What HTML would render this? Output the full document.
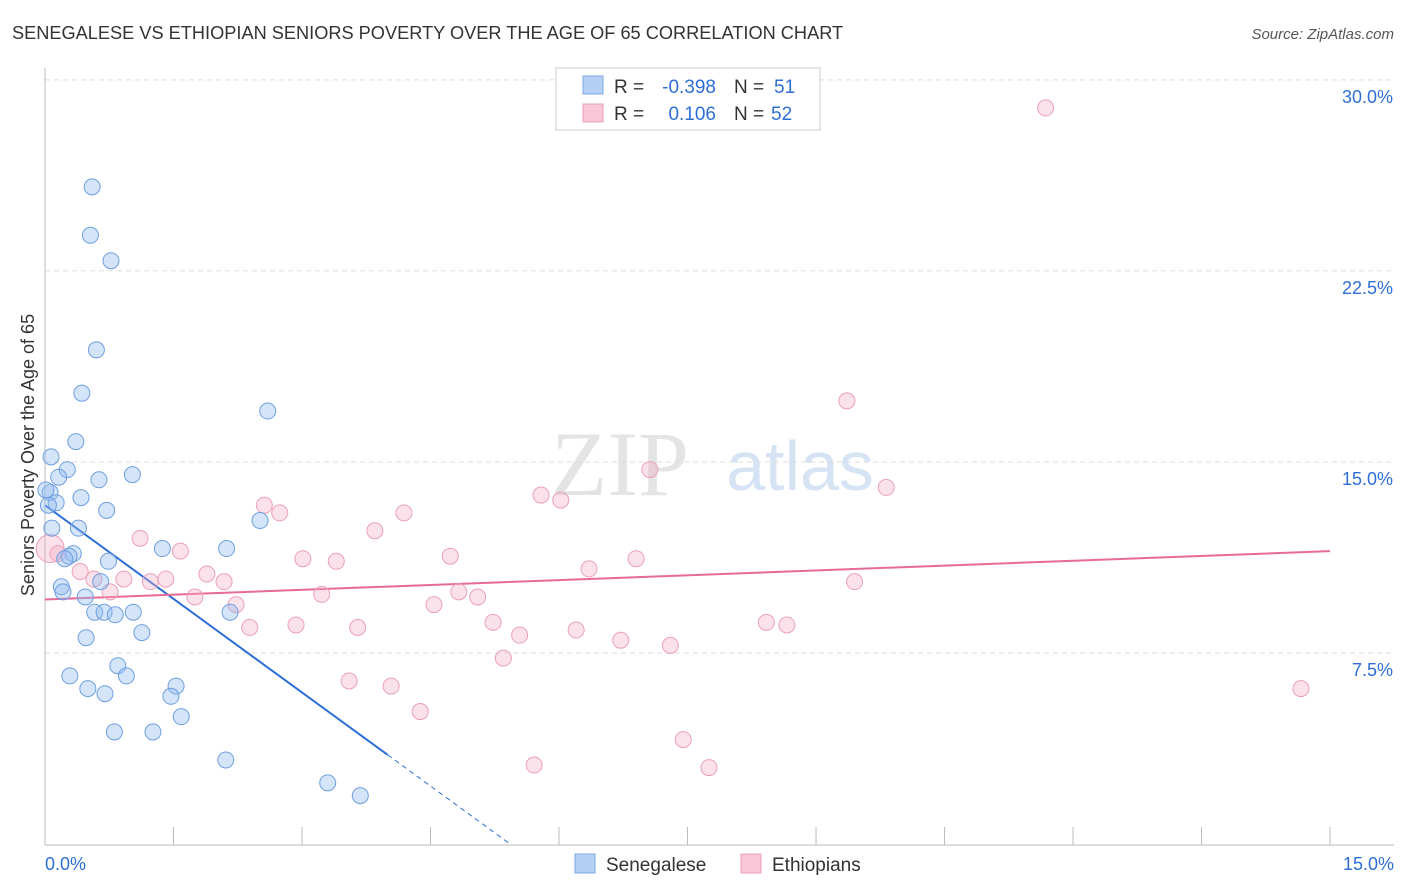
<!DOCTYPE html>
<html><head><meta charset="utf-8"><style>
body{margin:0;background:#fff;font-family:"Liberation Sans",sans-serif;}
svg{display:block}
</style></head><body>
<svg id="chart" width="1406" height="892">
<text x="12" y="39" font-size="18.2" fill="#333">SENEGALESE VS ETHIOPIAN SENIORS POVERTY OVER THE AGE OF 65 CORRELATION CHART</text>
<text x="1394" y="39" font-size="15" fill="#555" font-style="italic" text-anchor="end">Source: ZipAtlas.com</text>
<text x="620" y="495" font-size="92" fill="#e4e4e4" font-family="Liberation Serif" text-anchor="middle">ZIP</text>
<text x="800" y="490" font-size="70" fill="#d6e3f5" text-anchor="middle">atlas</text>
<g id="grid"></g><g id="axes"></g><g id="trend"></g><g id="pts"></g>
<text transform="translate(34,455) rotate(-90)" font-size="18" fill="#333" text-anchor="middle">Seniors Poverty Over the Age of 65</text>
<g>
<rect x="556" y="68" width="264" height="62" fill="#fff" stroke="#ccc"/>
<rect x="583" y="76" width="20" height="18" fill="#b5d0f3" stroke="#7aa7e6"/>
<text x="614" y="93" font-size="19" fill="#333">R =</text>
<text x="716" y="93" font-size="19" fill="#2e6fd6" text-anchor="end">-0.398</text>
<text x="734" y="93" font-size="19" fill="#333">N =</text>
<text x="774" y="93" font-size="19" fill="#2e6fd6">51</text>
<rect x="583" y="104" width="20" height="18" fill="#f8c6d6" stroke="#eaa0b8"/>
<text x="614" y="120" font-size="19" fill="#333">R =</text>
<text x="716" y="120" font-size="19" fill="#2e6fd6" text-anchor="end">0.106</text>
<text x="734" y="120" font-size="19" fill="#333">N =</text>
<text x="771" y="120" font-size="19" fill="#2e6fd6">52</text>
</g>
<g>
<rect x="575" y="854" width="20" height="19" fill="#b5d0f3" stroke="#7aa7e6"/>
<text x="606" y="871" font-size="19" fill="#333">Senegalese</text>
<rect x="741" y="854" width="20" height="19" fill="#f8c6d6" stroke="#eaa0b8"/>
<text x="772" y="871" font-size="19" fill="#333">Ethiopians</text>
</g>
</svg>
<script>
const blueX=[0.55,0.53,0.77,0.60,0.43,2.60,0.36,0.07,0.26,0.16,0.63,1.02,0.06,0.13,0.42,0.72,0.08,0.39,2.51,0.33,0.28,0.23,1.37,2.12,0.74,0.19,0.21,0.65,0.47,0.58,0.69,0.82,1.03,2.16,0.48,1.13,0.85,0.95,0.29,0.50,0.70,1.53,1.47,1.59,0.81,1.26,2.11,3.30,3.68,0.04,0.01];
const blueY=[25.8,23.9,22.9,19.4,17.7,17.0,15.8,15.2,14.7,14.4,14.3,14.5,13.8,13.4,13.6,13.1,12.4,12.4,12.7,11.4,11.3,11.2,11.6,11.6,11.1,10.1,9.9,10.3,9.7,9.1,9.1,9.0,9.1,9.1,8.1,8.3,7.0,6.6,6.6,6.1,5.9,6.2,5.8,5.0,4.4,4.4,3.3,2.4,1.9,13.3,13.9];
const pinkX=[11.68,9.36,7.06,9.82,5.79,6.02,2.56,2.74,4.19,3.85,1.11,1.58,4.73,3.01,3.40,6.90,6.35,0.15,0.41,0.57,0.92,1.23,1.41,1.89,2.09,0.76,1.75,3.23,4.83,5.05,2.23,4.54,2.93,3.65,5.23,2.39,5.54,6.20,6.72,7.30,8.42,8.66,9.45,5.35,3.55,4.04,4.38,7.45,7.75,5.71,14.66,0.06];
const pinkY=[28.9,17.4,14.7,14.0,13.7,13.5,13.3,13.0,13.0,12.3,12.0,11.5,11.3,11.2,11.1,11.2,10.8,11.4,10.7,10.4,10.4,10.3,10.4,10.6,10.3,9.9,9.7,9.8,9.9,9.7,9.4,9.4,8.6,8.5,8.7,8.5,8.2,8.4,8.0,7.8,8.7,8.6,10.3,7.3,6.4,6.2,5.2,4.1,3.0,3.1,6.1,11.6];
const yTicks=[7.5,15.0,22.5,30.0];
const xTicks=[0,1.5,3,4.5,6,7.5,9,10.5,12,13.5,15];
const blueTrend=[13.3,-2.45,4.0,5.43];
const pinkTrend=[9.6,11.5];
const NS='http://www.w3.org/2000/svg';
const X=v=>45+v*85.67, Y=v=>844-v*25.47;
function mk(t,a,p){const e=document.createElementNS(NS,t);for(const k in a)e.setAttribute(k,a[k]);p.appendChild(e);return e;}
const grid=document.getElementById('grid'),axes=document.getElementById('axes');
yTicks.forEach(t=>{
 const l=mk('line',{x1:45,x2:1394,y1:Y(t),y2:Y(t),stroke:'#ddd','stroke-dasharray':'5,4'},grid);
 
 
 const tx=mk('text',{x:1393,y:Y(t)+23,'font-size':18,fill:'#2e6fd6','text-anchor':'end'},axes);
 tx.textContent=t.toFixed(1)+'%';
 
 
});
mk('line',{x1:45,x2:45,y1:68,y2:845,stroke:'#bbb'},axes);
mk('line',{x1:45,x2:1394,y1:845,y2:845,stroke:'#bbb'},axes);
xTicks.forEach(t=>{
 const l=mk('line',{x1:X(t),x2:X(t),y1:827,y2:845,stroke:'#bbb'},axes);
 
 
});
const xl0=mk('text',{x:45,y:870,'font-size':18,fill:'#2e6fd6'},axes);xl0.textContent='0.0%';


const xl1=mk('text',{x:1394,y:870,'font-size':18,fill:'#2e6fd6','text-anchor':'end'},axes);xl1.textContent='15.0%';


const pts=document.getElementById('pts');
pinkX.forEach((x,i)=>{
 const c=mk('circle',{cx:X(x),cy:Y(pinkY[i]),r:i==pinkX.length-1?14:8,fill:'rgba(244,170,196,0.35)',stroke:'#eaa0b8','stroke-width':1},pts);
 
 
});
blueX.forEach((x,i)=>{
 const c=mk('circle',{cx:X(x),cy:Y(blueY[i]),r:8,fill:'rgba(147,187,240,0.4)',stroke:'#6f9fe0','stroke-width':1},pts);
 
 
});
const tr=document.getElementById('trend');
const [b0,b1,bs,bd]=blueTrend;
const t1=mk('line',{x1:X(0),y1:Y(b0),x2:X(bs),y2:Y(b0+b1*bs),stroke:'#2e6fd6','stroke-width':2},tr);


const t2=mk('line',{x1:X(bs),y1:Y(b0+b1*bs),x2:X(bd),y2:Y(b0+b1*bd),stroke:'#2e6fd6','stroke-width':1,'stroke-dasharray':'5,4'},tr);


const t3=mk('line',{x1:X(0),y1:Y(pinkTrend[0]),x2:X(15),y2:Y(pinkTrend[1]),stroke:'#e86a98','stroke-width':2},tr);


</script>
</body></html>
